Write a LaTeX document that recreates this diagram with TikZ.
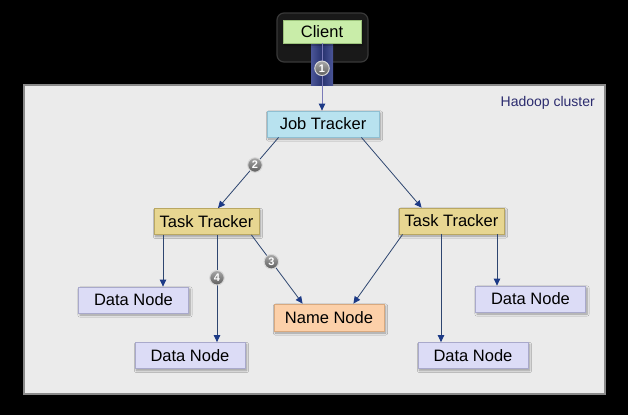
\documentclass[tikz,border=0pt]{standalone}
\usepackage{fontspec}
\setmainfont{Liberation Sans}
\usetikzlibrary{arrows.meta,shadows.blur,calc}
\definecolor{clusterfill}{HTML}{EBEBEB}
\definecolor{clusterdraw}{HTML}{8A8A8A}
\definecolor{clientfill}{HTML}{C9EDA9}
\definecolor{clientdraw}{HTML}{9CC27C}
\definecolor{jtfill}{HTML}{B8E2EF}
\definecolor{jtdraw}{HTML}{8FBFD2}
\definecolor{ttfill}{HTML}{E7D691}
\definecolor{ttdraw}{HTML}{B9A762}
\definecolor{dnfill}{HTML}{DCDCF6}
\definecolor{dndraw}{HTML}{A9A9CB}
\definecolor{nnfill}{HTML}{FCD0A9}
\definecolor{nndraw}{HTML}{D8A97F}
\definecolor{linecol}{HTML}{2E4670}
\definecolor{tipcol}{HTML}{1C3A86}
\definecolor{labelnavy}{HTML}{2B2B6E}
\definecolor{baredge}{HTML}{4A5598}
\definecolor{barmid}{HTML}{28336F}
\definecolor{balltop}{HTML}{A8A8A8}
\definecolor{ballbot}{HTML}{5E5E5E}
\definecolor{ballring}{HTML}{D8D8D8}
\tikzset{
  boxnode/.style={rectangle, inner sep=0pt, line width=0.8pt,
    font=\fontsize{16.5}{18}\selectfont,
    blur shadow={shadow xshift=1.5pt, shadow yshift=-2pt, shadow blur steps=6, shadow opacity=35}},
  clientbox/.style={boxnode, fill=clientfill, draw=clientdraw, minimum width=78pt, minimum height=23pt},
  jtbox/.style={boxnode, fill=jtfill, draw=jtdraw, minimum width=112pt, minimum height=26pt},
  ttbox/.style={boxnode, fill=ttfill, draw=ttdraw, minimum width=105pt, minimum height=26pt},
  dnbox/.style={boxnode, fill=dnfill, draw=dndraw, minimum width=110pt, minimum height=26pt},
  nnbox/.style={boxnode, fill=nnfill, draw=nndraw, minimum width=110pt, minimum height=27pt},
  conn/.style={draw=linecol, line width=0.8pt, -{Triangle[length=7pt,width=6.5pt,fill=tipcol,color=tipcol]}},
  numball/.style={circle, minimum size=14.5pt, inner sep=0pt, top color=balltop, bottom color=ballbot,
    draw=ballring, line width=1pt, text=white, font=\fontsize{11}{11}\selectfont\bfseries}
}
\begin{document}
\begin{tikzpicture}[x=1pt,y=-1pt]
\useasboundingbox (0,0) rectangle (628,415);
\fill[black] (0,0) rectangle (628,415);
% cluster
\draw[fill=clusterfill, draw=clusterdraw, line width=1.5pt] (24,85) rectangle (605,394);
\node[anchor=east, text=labelnavy, font=\fontsize{14}{16}\selectfont, inner sep=0pt] (hc) at (595,103) {Hadoop cluster};
% client halo and bar
\draw[fill=black!90, draw=black!78, line width=1.2pt, rounded corners=7pt] (277,13) rectangle (368,62);
\shade[left color=baredge, right color=baredge, middle color=barmid] (311,44) rectangle (333,85.5);
% nodes
\node[clientbox] (client) at (322,31.5) {Client};
\node[jtbox] (jt) at (323,124) {Job Tracker};
\node[ttbox] (ttl) at (206.5,221.5) {Task Tracker};
\node[ttbox] (ttr) at (451.5,221) {Task Tracker};
\node[dnbox] (dnl1) at (133.5,300) {Data Node};
\node[dnbox] (dnl2) at (190,355.5) {Data Node};
\node[nnbox] (nn) at (329,317.5) {Name Node};
\node[dnbox] (dnr1) at (530.5,299) {Data Node};
\node[dnbox] (dnr2) at (473,355.5) {Data Node};
% connectors
\draw[conn, draw=blue!30!gray!80] (client.south) -- node[numball, pos=0.37] (n1) {1} (client.south |- jt.north);
\draw[conn] ([xshift=12pt]jt.south west) -- node[numball, pos=0.39] (n2) {2} ([xshift=11.5pt]ttl.north);
\draw[conn] ([xshift=-18pt]jt.south east) -- ([xshift=23pt]ttr.north west);
\draw[conn] ([xshift=-43.5pt]ttl.south) -- ([xshift=29.5pt]dnl1.north);
\draw[conn] ([xshift=10.5pt]ttl.south) -- node[numball, pos=0.40] (n4) {4} ([xshift=27pt]dnl2.north);
\draw[conn] ([xshift=-8pt]ttl.south east) -- node[numball, pos=0.39] (n3) {3} ([xshift=29pt]nn.north west);
\draw[conn] ([xshift=4pt]ttr.south west) -- ([xshift=-31pt]nn.north east);
\draw[conn] ([xshift=-10.5pt]ttr.south) -- ([xshift=-32pt]dnr2.north);
\draw[conn] ([xshift=45.5pt]ttr.south) -- ([xshift=-33.5pt]dnr1.north);
\end{tikzpicture}
\end{document}
